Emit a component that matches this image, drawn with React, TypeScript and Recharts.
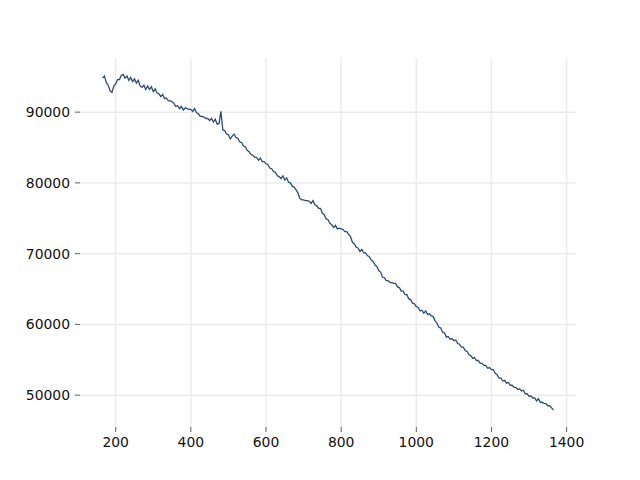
import { CartesianGrid, Line, LineChart, XAxis, YAxis } from "recharts";

// x positions, every 5 units from 165 to 1365
const positions: number[] = [];
for (let x = 165; x <= 1365; x += 5) positions.push(x);

// values, one per position
const values = [
  94800, 95100, 94200, 93800, 93000, 92800, 93700, 94000, 94600, 94600,
  95200, 95300, 94800, 95100, 94500, 94900, 94300, 94700, 94100, 94500,
  93700, 93500, 93800, 93200, 93700, 93200, 93600, 92900, 93300, 92700,
  92600, 92200, 92500, 91900, 92000, 91600, 91600, 91500, 91200, 90800,
  90900, 90500, 90800, 90300, 90600, 90500, 90400, 90400, 90100, 90500,
  89900, 89800, 89400, 89400, 89300, 89100, 89100, 88800, 89100, 88600,
  89000, 88300, 88400, 90100, 87500, 87400, 86900, 86800, 86200, 86600,
  86900, 86400, 86300, 85800, 85700, 85200, 85100, 84600, 84400, 84000,
  83900, 83600, 83600, 83200, 83500, 83000, 83000, 82700, 82600, 82100,
  82000, 81600, 81500, 81000, 80900, 80600, 81000, 80400, 80700, 80100,
  80000, 79500, 79400, 79000, 78600, 77800, 77600, 77600, 77500, 77500,
  77400, 77100, 77500, 76900, 76800, 76400, 76400, 75700, 75500, 74900,
  74800, 74300, 74100, 73700, 74000, 73500, 73600, 73500, 73400, 73100,
  73100, 72700, 72400, 71600, 71400, 70900, 70800, 70300, 70600, 70100,
  70100, 69700, 69600, 69100, 68900, 68400, 68200, 67600, 67400, 66700,
  66600, 66200, 66200, 65900, 65900, 65800, 65800, 65300, 65200, 64700,
  64700, 64200, 64200, 63600, 63500, 63000, 62900, 62500, 62400, 61900,
  62000, 61600, 61900, 61400, 61500, 61200, 61100, 60500, 60200, 59600,
  59500, 58900, 58800, 58200, 58300, 57900, 58000, 57700, 57800, 57300,
  57200, 56800, 56800, 56300, 56200, 55700, 55600, 55200, 55300, 54900,
  54900, 54500, 54500, 54200, 54200, 53800, 53900, 53600, 53600, 53100,
  52900, 52400, 52400, 52000, 52100, 51700, 51800, 51400, 51400, 51100,
  51100, 50800, 50900, 50600, 50700, 50200, 50200, 49800, 49900, 49600,
  49600, 49200, 49500, 49000, 49000, 48800, 48800, 48500, 48500, 48200,
  47900,
];

const xTicks = [200, 400, 600, 800, 1000, 1200, 1400];
const yTicks = [50000, 60000, 70000, 80000, 90000];

const data = positions.map((x, i) => ({ x, y: values[i] }));

const tickStyle = { fill: "#111", fontSize: 13.9, fontFamily: "DejaVu Sans" };

export default function App() {
  return (
    <div style={{ position: "absolute", left: 0, top: 0, background: "#fff" }}>
      <LineChart
        width={640}
        height={480}
        data={data}
        margin={{ top: 58, right: 64, bottom: 0, left: 0 }}
      >
        <CartesianGrid
          stroke="#ebebeb"
          strokeWidth={1.5}
          horizontalValues={yTicks}
          verticalValues={xTicks}
        />
        <XAxis
          dataKey="x"
          type="number"
          domain={[105, 1425]}
          ticks={xTicks}
          height={53}
          axisLine={false}
          tickSize={5}
          tickMargin={5}
          tickLine={{ stroke: "#333", strokeWidth: 0.8 }}
          tick={tickStyle}
        />
        <YAxis
          type="number"
          domain={[45500, 97650]}
          ticks={yTicks}
          width={80}
          axisLine={false}
          tickSize={5}
          tickMargin={5}
          tickLine={{ stroke: "#333", strokeWidth: 0.8 }}
          tick={tickStyle}
        />
        <Line
          dataKey="y"
          type="linear"
          stroke="#2e4c72"
          strokeWidth={1.3}
          dot={false}
          isAnimationActive={false}
        />
      </LineChart>
    </div>
  );
}
